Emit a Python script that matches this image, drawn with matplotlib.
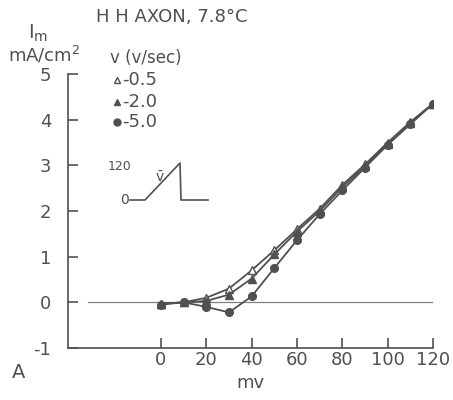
import matplotlib
matplotlib.use("Agg")
import matplotlib.pyplot as plt
from matplotlib.lines import Line2D

# membrane potential (mV) and current density (mA/cm2) for three ramp speeds
mv = [0, 10, 20, 30, 40, 50, 60, 70, 80, 90, 100, 110, 120]
im_05 = [-0.03, 0.0, 0.1, 0.3, 0.7, 1.14, 1.6, 2.05, 2.57, 3.02, 3.5, 3.95, 4.35]
im_20 = [-0.03, 0.0, 0.03, 0.17, 0.52, 1.05, 1.55, 2.0, 2.52, 2.98, 3.47, 3.93, 4.35]
im_50 = [-0.05, 0.0, -0.1, -0.22, 0.13, 0.75, 1.36, 1.93, 2.45, 2.95, 3.45, 3.9, 4.35]

xticks = [0, 20, 40, 60, 80, 100, 120]
yticks = [-1, 0, 1, 2, 3, 4, 5]

ink = "#505050"
plt.rcParams["font.family"] = ["DejaVu Sans"]

fig = plt.figure(figsize=(4.53, 4.0), dpi=100)
ax = fig.add_axes([68 / 453, 52 / 400, 365 / 453, 274 / 400])

ax.plot([-32, 120], [0, 0], color="#808080", lw=0.9, zorder=1)
ax.plot(mv, im_05, color=ink, lw=1.3, marker="^", ms=5.5, mfc="white", mec=ink, mew=1.0)
ax.plot(mv, im_20, color=ink, lw=1.3, marker="^", ms=5.5, mfc=ink, mec=ink)
ax.plot(mv, im_50, color=ink, lw=1.3, marker="o", ms=5.5, mfc=ink, mec=ink)

ax.set_xlim(-41, 120)
ax.set_ylim(-1, 5)
ax.set_xticks(xticks)
ax.set_yticks(yticks)
ax.set_xticklabels([str(t) for t in xticks])
ax.set_yticklabels([str(t) for t in yticks])
for s in ["top", "right"]:
    ax.spines[s].set_visible(False)
for s in ["left", "bottom"]:
    ax.spines[s].set_color(ink)
    ax.spines[s].set_linewidth(1.2)
ax.tick_params(direction="in", length=7, width=1.2, color=ink, labelcolor=ink,
               labelsize=13)
ax.tick_params(axis="x", pad=2)
ax.tick_params(axis="y", pad=12)
ax.set_xlabel("mv", color=ink, fontsize=13, labelpad=4)

# labels drawn in figure pixels
def ftext(x, y, s, **kw):
    kw.setdefault("fontsize", 13)
    fig.text(x / 453, 1 - y / 400, s, color=ink, va="center", **kw)

ftext(96, 17, "H H AXON, 7.8°C", fontsize=13)
ftext(28, 33, r"$\mathrm{I_m}$", fontsize=14)
ftext(8, 55, r"mA/cm$^2$", fontsize=13)
ftext(110, 58, "v (v/sec)", fontsize=12)
ftext(12, 372, "A", fontsize=14)

legend_rows = [("-0.5", "^", "white", 80), ("-2.0", "^", ink, 102), ("-5.0", "o", ink, 122)]
for lab, mk, fc, yy in legend_rows:
    fig.add_artist(Line2D([117 / 453], [1 - yy / 400], marker=mk, ms=5, mfc=fc, mec=ink,
                          ls="none", transform=fig.transFigure))
    ftext(122, yy, lab, fontsize=13)

# ramp inset
fig.add_artist(Line2D([130 / 453, 145 / 453, 180 / 453, 181 / 453, 208 / 453],
                      [1 - 200 / 400, 1 - 200 / 400, 1 - 163 / 400, 1 - 200 / 400, 1 - 200 / 400],
                      color=ink, lw=1.2, transform=fig.transFigure))
ftext(108, 167, "120", fontsize=9)
ftext(120, 200, "0", fontsize=10)
ftext(155, 178, r"$\bar{\mathrm{v}}$", fontsize=10)

fig.savefig("out.png", dpi=100, facecolor="white")
